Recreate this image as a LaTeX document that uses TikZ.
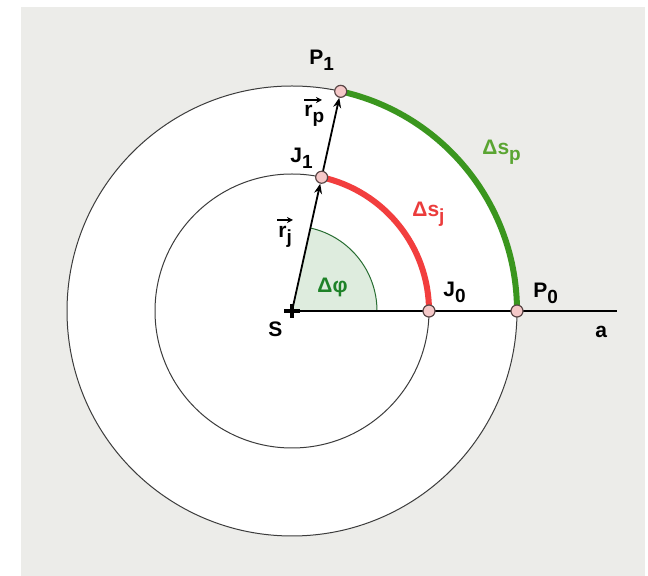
\documentclass[tikz,border=0pt]{standalone}
\usepackage{fontspec}
\setmainfont{Liberation Sans}
\usetikzlibrary{arrows.meta,calc}
\definecolor{bg}{RGB}{236,236,233}
\definecolor{circ}{RGB}{60,60,60}
\definecolor{redarc}{RGB}{242,62,62}
\definecolor{greenarc}{RGB}{58,150,30}
\definecolor{greentxt}{RGB}{90,165,50}
\definecolor{redtxt}{RGB}{235,60,60}
\definecolor{phitxt}{RGB}{30,130,40}
\definecolor{wedgefill}{RGB}{222,236,222}
\definecolor{wedgeline}{RGB}{40,110,50}
\definecolor{ptfill}{RGB}{245,200,200}
\definecolor{ptline}{RGB}{90,70,70}
\newcommand\lsub[1]{\raisebox{-3pt}{\fontsize{9.5}{10}\selectfont #1}}
\tikzset{
  lab/.style={font=\bfseries\fontsize{10.5}{12}\selectfont, inner sep=0pt, anchor=base west},
  ptnode/.style={circle, draw=ptline, fill=ptfill, line width=0.6pt, minimum size=6pt, inner sep=0pt},
  vecarrow/.style={line width=0.9pt, -{Stealth[length=5pt,width=4pt]}},
  smallvec/.style={line width=0.8pt, -{Stealth[length=3pt,width=3pt]}},
  thinring/.style={draw=circ, line width=0.5pt},
  thickarc/.style={line width=3pt},
}
\begin{document}
\begin{tikzpicture}[x=0.5pt,y=-0.5pt]
\useasboundingbox (0,0) rectangle (648,576);
\fill[bg] (21,7) rectangle (645,576);
% centre and points
\coordinate (S) at (292,311);
\coordinate (J0c) at ($(S)+(137,0)$);
\coordinate (P0c) at ($(S)+(225,0)$);
\coordinate (J1c) at ($(S)+(-77.5:137)$);
\coordinate (P1c) at ($(S)+(-77.5:225)$);
\coordinate (A) at (617,311);
% circles
\draw[thinring, fill=white] (S) circle[radius=225];
\draw[thinring] (S) circle[radius=137];
% angle wedge
\fill[wedgefill] (S) -- ++(85,0) arc[start angle=0, end angle=-77.5, radius=85] -- cycle;
\draw[wedgeline, line width=0.5pt] ($(S)+(85,0)$) arc[start angle=0, end angle=-77.5, radius=85];
% axis
\draw[black, line width=0.65pt] (S) -- (A);
% thick arcs
\draw[redarc, thickarc] (J0c) arc[start angle=0, end angle=-77.5, radius=137];
\draw[greenarc, thickarc] (P0c) arc[start angle=0, end angle=-77.5, radius=225];
% points
\node[ptnode] (J0) at (J0c) {};
\node[ptnode] (P0) at (P0c) {};
\node[ptnode] (J1) at (J1c) {};
\node[ptnode] (P1) at (P1c) {};
% vectors
\draw[vecarrow] (S) -- (J1);
\draw[vecarrow] (J1) -- (P1);
% cross at S
\draw[line width=1.6pt] ($(S)+(-8,0)$) -- ($(S)+(8,0)$);
\draw[line width=1.6pt] ($(S)+(0,-7)$) -- ($(S)+(0,7)$);
% labels
\node[lab] (lP1) at (309,65) {P\lsub{1}};
\node[lab] (lJ1) at (290,163) {J\lsub{1}};
\node[lab] (lrp) at (304,117) {r\lsub{p}};
\draw[smallvec] ([shift={(0,-17)}]lrp.base west) -- ++(18,0);
\node[lab] (lrj) at (278,238) {r\lsub{j}};
\draw[smallvec] ([shift={(-1,-18)}]lrj.base west) -- ++(16,0);
\node[lab, text=redtxt] (ldsj) at (412,217) {Δs\lsub{j}};
\node[lab, text=greentxt] (ldsp) at (482,155) {Δs\lsub{p}};
\node[lab, text=phitxt] (ldphi) at (317,293) {Δφ};
\node[lab] (lJ0) at (443,297) {J\lsub{0}};
\node[lab] (lP0) at (533,298) {P\lsub{0}};
\node[lab] (la) at (595,338) {a};
\node[lab] (lS) at (268,337) {S};
\end{tikzpicture}
\end{document}
